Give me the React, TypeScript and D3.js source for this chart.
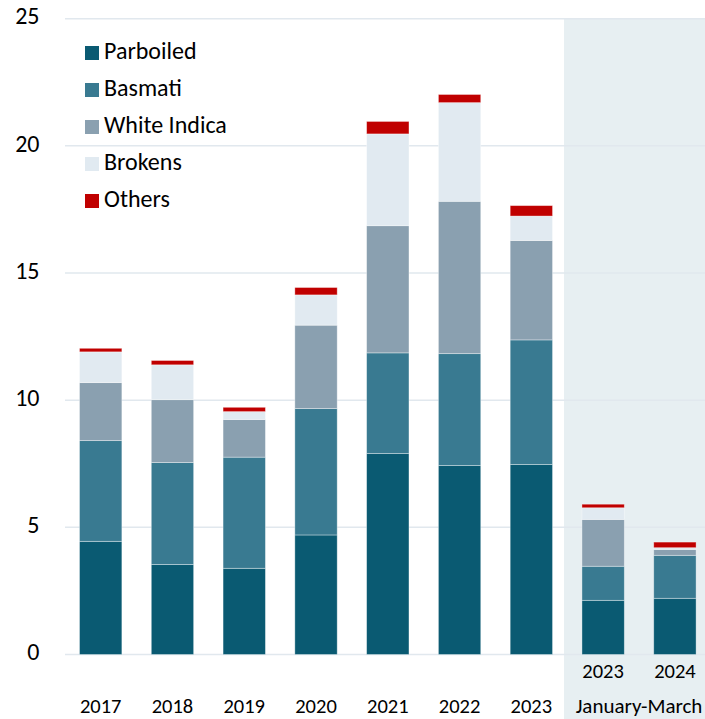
import { useMemo } from "react";
import * as d3 from "d3";

// categories (last two are January-March)
const periods = ["2017", "2018", "2019", "2020", "2021", "2022", "2023", "Q1-2023", "Q1-2024"];
const periodLabels = ["2017", "2018", "2019", "2020", "2021", "2022", "2023", "2023", "2024"];
const seriesNames = ["Parboiled", "Basmati", "White Indica", "Brokens", "Others"];

// series values
const parboiled = [4.45, 3.54, 3.39, 4.70, 7.90, 7.43, 7.47, 2.13, 2.21];
const basmati = [3.96, 4.01, 4.37, 4.97, 3.96, 4.40, 4.90, 1.34, 1.69];
const whiteIndica = [2.28, 2.47, 1.48, 3.28, 5.00, 5.99, 3.91, 1.84, 0.23];
const brokens = [1.21, 1.37, 0.31, 1.19, 3.61, 3.88, 0.96, 0.46, 0.07];
const others = [0.14, 0.17, 0.17, 0.29, 0.49, 0.32, 0.41, 0.14, 0.22];

const yTicks = [0, 5, 10, 15, 20, 25];
const colors = ["#0a5a72", "#397a91", "#8aa0b0", "#e1eaf1", "#c00000"];

const W = 705;
const H = 719;
const font = "Carlito, Calibri, Lato, sans-serif";

export default function App() {
    const rows = periods.map((p, i) => ({
        period: p,
        Parboiled: parboiled[i],
        Basmati: basmati[i],
        "White Indica": whiteIndica[i],
        Brokens: brokens[i],
        Others: others[i],
    }));

    const stacked = useMemo(() => d3.stack<any>().keys(seriesNames)(rows), []);

    const x = d3.scaleBand()
        .domain(periods)
        .range([64.8, 710.8])
        .paddingInner(0.41)
        .paddingOuter(0.205);

    const y = d3.scaleLinear().domain([0, 25]).range([654.5, 18.7]);

    // shaded january-march area
    const shadeX = (x("Q1-2023") as number) - x.step() * 0.25;

    return (
        <svg width={W} height={H} style={{ position: "absolute", left: 0, top: 0, background: "#fff" }}>
            <rect x={shadeX} y={y(25)} width={W - shadeX} height={H - y(25)} fill="#e7eff2" />

            {/* gridlines */}
            {yTicks.map(t => (
                <line key={t} x1={65} x2={W} y1={y(t)} y2={y(t)} stroke="#e1e8ee" strokeWidth={1.5} />
            ))}

            {/* y tick labels */}
            {yTicks.map(t => (
                <text key={"l" + t} x={39.5} y={y(t)} textAnchor="end" dominantBaseline="middle"
                    fontFamily={font} fontSize={24} fill="#000">{t}</text>
            ))}

            {/* bars */}
            {stacked.map((layer, li) => (
                <g key={layer.key} fill={colors[li]}>
                    {layer.map((d: any) => (
                        <rect key={d.data.period}
                            x={x(d.data.period)}
                            y={y(d[1])}
                            width={x.bandwidth()}
                            height={y(d[0]) - y(d[1])}
                            stroke="rgba(255,255,255,0.45)"
                            strokeWidth={0.8} />
                    ))}
                </g>
            ))}

            {/* x labels */}
            {periods.map((p, i) => {
                const cx = (x(p) as number) + x.bandwidth() / 2;
                const isQ = p.startsWith("Q1");
                return (
                    <text key={"x" + p} x={cx} y={isQ ? 673 : 708} textAnchor="middle" dominantBaseline="middle"
                        fontFamily={font} fontSize={20.5} fill="#000">{periodLabels[i]}</text>
                );
            })}
            <text x={((x("Q1-2023") as number) + (x("Q1-2024") as number) + x.bandwidth()) / 2} y={708}
                textAnchor="middle" dominantBaseline="middle" fontFamily={font} fontSize={21} fill="#000">
                January-March
            </text>

            {/* legend */}
            {seriesNames.map((s, i) => (
                <g key={s} transform={`translate(85, ${53 + i * 37})`}>
                    <rect x={0} y={-7} width={14} height={14} fill={colors[i]} />
                    <text x={19} y={0} dominantBaseline="middle" fontFamily={font} fontSize={24} fill="#000">{s}</text>
                </g>
            ))}
        </svg>
    );
}
